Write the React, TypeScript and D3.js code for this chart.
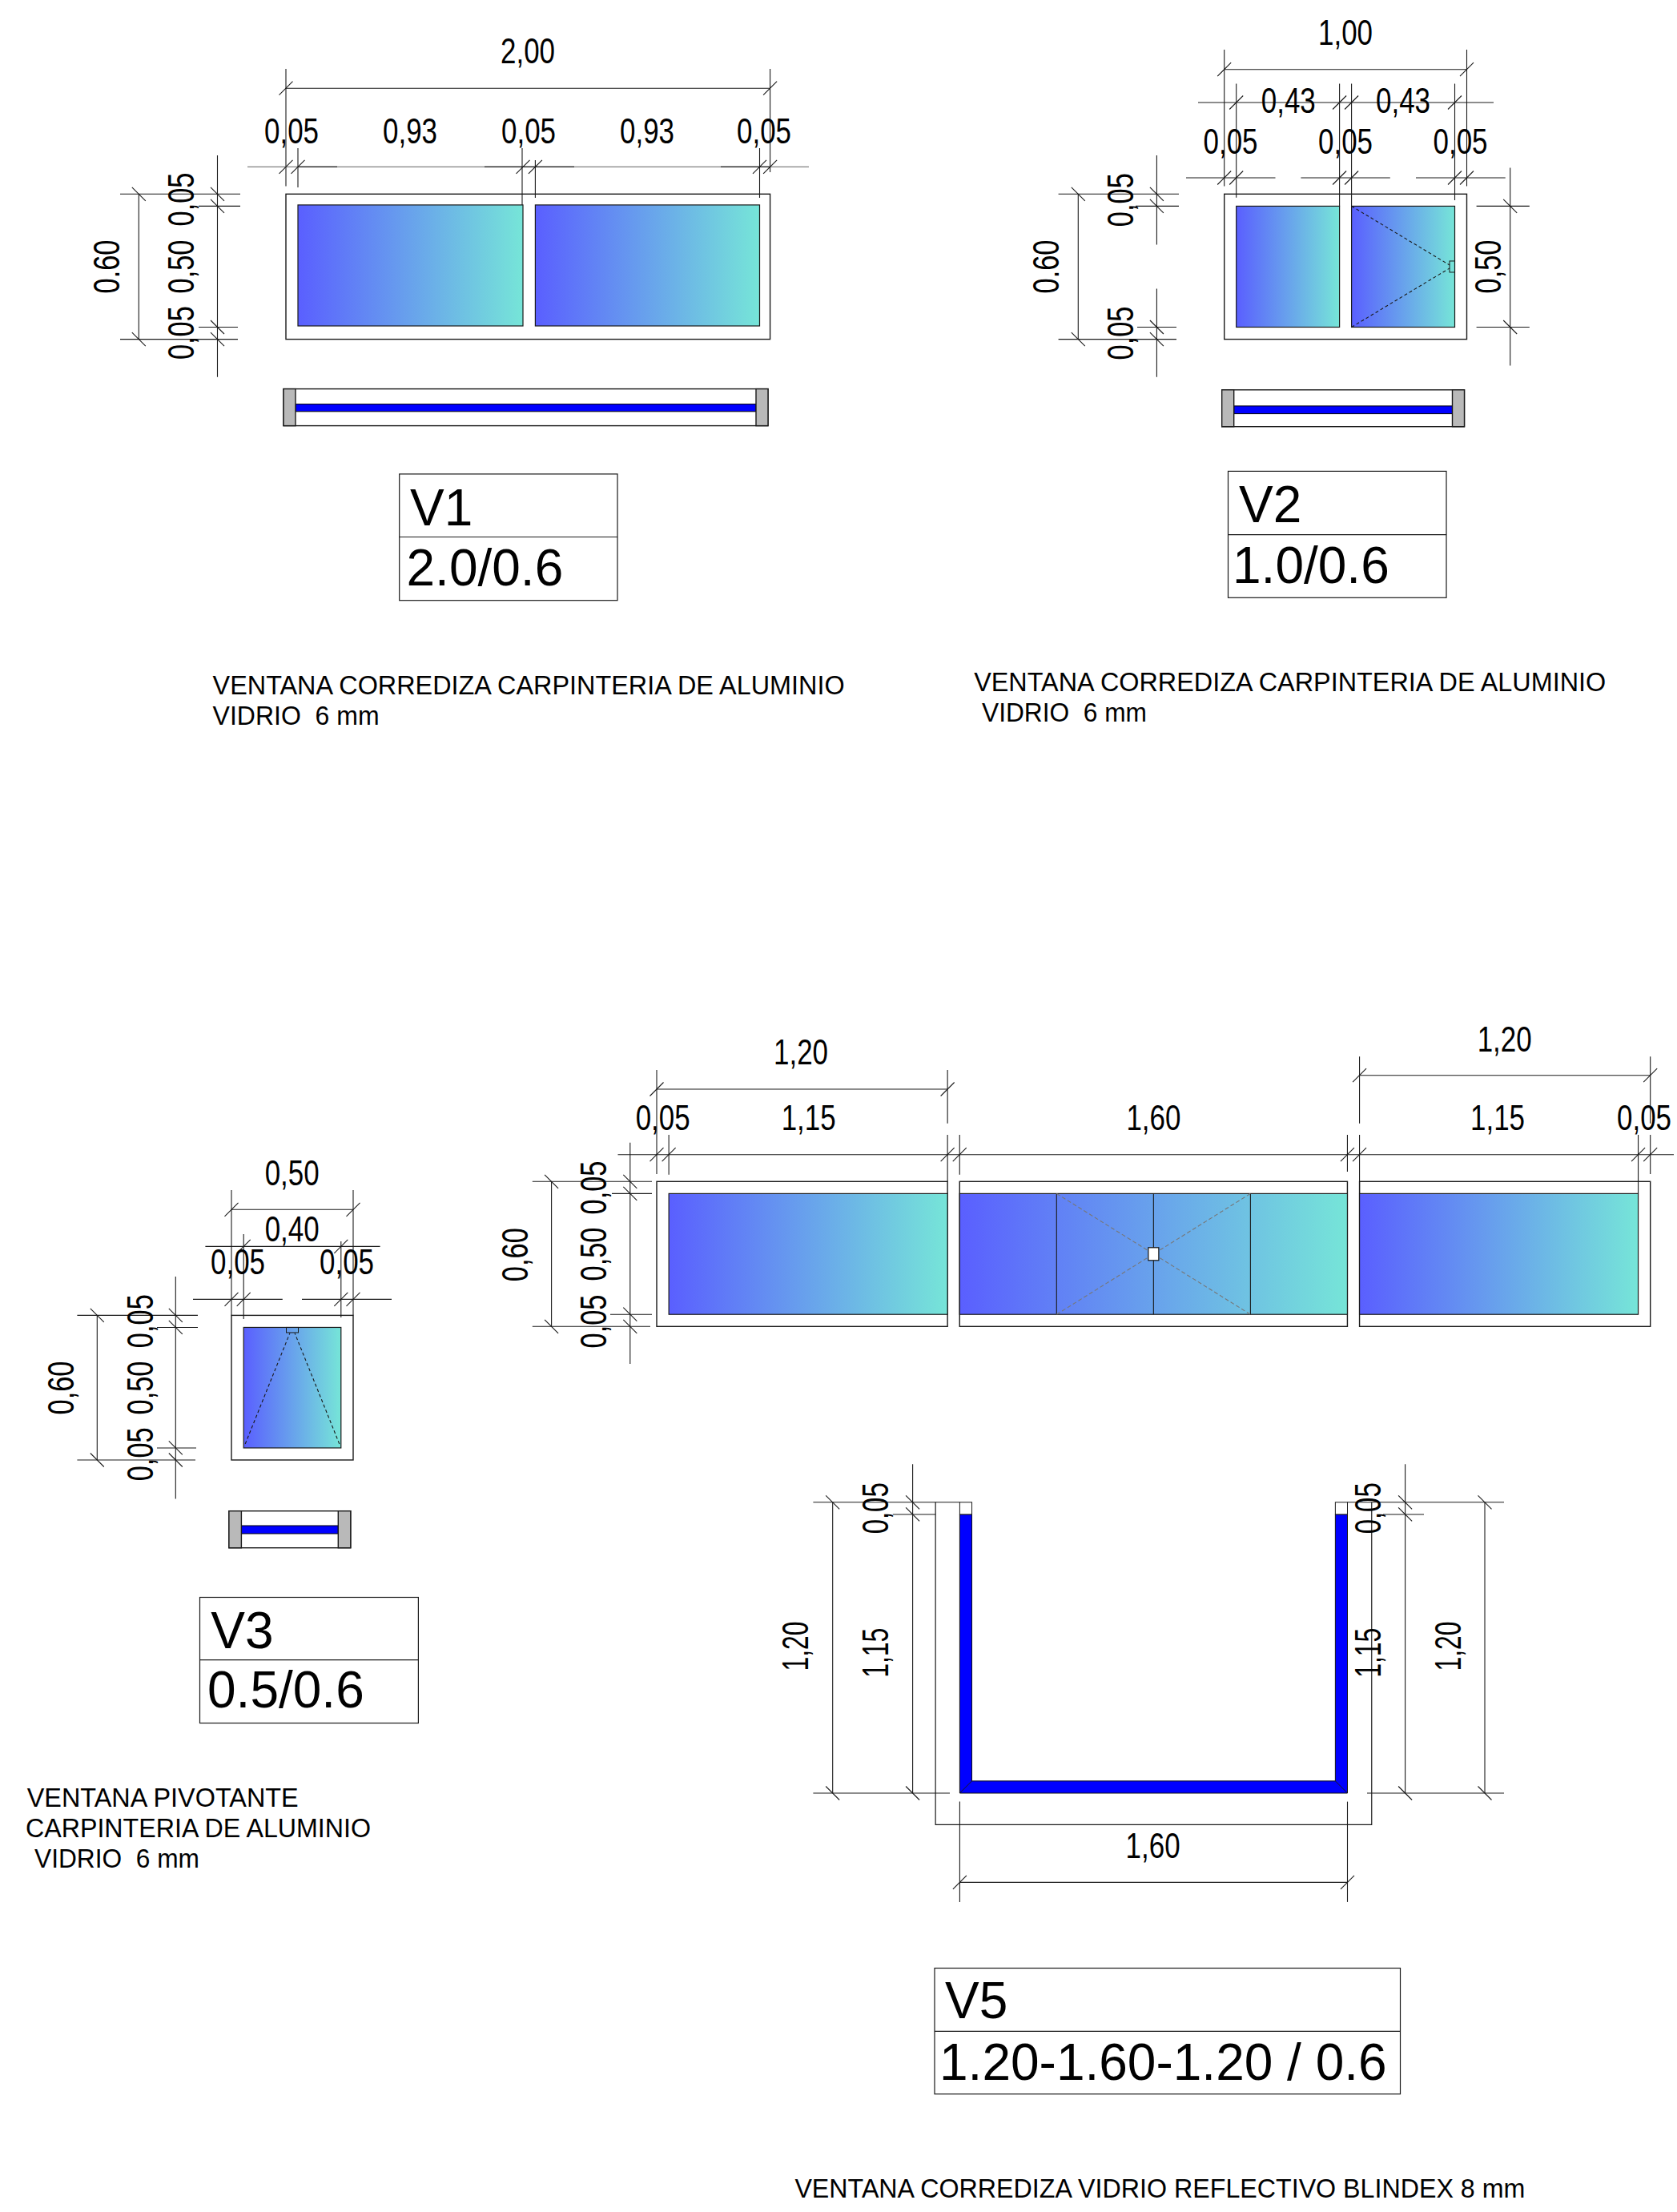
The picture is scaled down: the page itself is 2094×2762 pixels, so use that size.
import React from 'react';
import * as d3 from 'd3';

// ---- data: all lengths in metres, as dimensioned on the drawing ----
const V1_BAYS = [0.05, 0.93, 0.05, 0.93, 0.05];
const V1_BAY_LABELS = ['0,05', '0,93', '0,05', '0,93', '0,05'];
const V2_BAYS = [0.05, 0.43, 0.05, 0.43, 0.05];
const V2_ROW_LABELS = ['0,05', '0,05', '0,05'];
const V2_PANE_LABELS = ['0,43', '0,43'];
const V3_BAYS = [0.05, 0.4, 0.05];
const RISE = [0.05, 0.5, 0.05];
const RISE_LABELS = ['0,05', '0,50', '0,05'];
const V5_BAYS = [0.05, 1.15, 0.05, 1.6, 0.05, 1.15, 0.05];
const V5_ROW_LABELS = ['0,05', '1,15', '1,60', '1,15', '0,05'];
const V5_MULLIONS = [0.4, 0.8, 1.2];
const V5_PLAN_WIDTH = 1.6;
const V5_PLAN_RISE = [0.05, 1.15];
const TITLES = ['V1', 'V2', 'V3', 'V5'];
const SIZES = ['2.0/0.6', '1.0/0.6', '0.5/0.6', '1.20-1.60-1.20 / 0.6'];
const NOTE_V1 = ['VENTANA CORREDIZA CARPINTERIA DE ALUMINIO', 'VIDRIO  6 mm'];
const NOTE_V3 = ['VENTANA PIVOTANTE', 'CARPINTERIA DE ALUMINIO', 'VIDRIO  6 mm'];
const NOTE_V5 = 'VENTANA CORREDIZA VIDRIO REFLECTIVO BLINDEX 8 mm';

// ---- drawing helpers ----
const INK = '#1a1a1a';
const FONT = '"Liberation Sans", Arial, sans-serif';
const breaks = (a: number[]) => [0, ...d3.cumsum(a)];
const GLASS = 'url(#glass)';

const L = ({ a, b, c, d, w = 1.1, s = INK, dash }: any) => (
  <line x1={a} y1={b} x2={c} y2={d} stroke={s} strokeWidth={w} strokeDasharray={dash} />
);
const TH = ({ xs, y }: any) => <>{xs.map((x: number, i: number) => <L key={i} a={x - 8.5} b={y + 8.5} c={x + 8.5} d={y - 8.5} />)}</>;
const TV = ({ ys, x }: any) => <>{ys.map((y: number, i: number) => <L key={i} a={x - 8.5} b={y - 8.5} c={x + 8.5} d={y + 8.5} />)}</>;
const DimH = ({ x, y, t, len = 68, size = 44 }: any) => (
  <text x={x} y={y} textAnchor="middle" fontFamily={FONT} fontSize={size} textLength={len} lengthAdjust="spacingAndGlyphs" fill="#000">{t}</text>
);
const DimV = ({ x, y, t, len = 67, size = 46 }: any) => (
  <text transform={`translate(${x},${y}) rotate(-90)`} textAnchor="middle" fontFamily={FONT} fontSize={size} textLength={len} lengthAdjust="spacingAndGlyphs" fill="#000">{t}</text>
);
const Rect = ({ x0, x1, y0, y1, fill = 'none', w = 1.4 }: any) => (
  <rect x={x0} y={y0} width={x1 - x0} height={y1 - y0} fill={fill} stroke={INK} strokeWidth={w} />
);
const Section = ({ x0, x1, y0, y1, g0, g1, end }: any) => (
  <g>
    <Rect x0={x0} x1={x1} y0={y0} y1={y1} />
    <rect x={x0 + end} y={g0} width={x1 - x0 - 2 * end} height={g1 - g0} fill="#0000ff" stroke="#000" strokeWidth={1} />
    <Rect x0={x0} x1={x0 + end} y0={y0} y1={y1} fill="#b9b9b9" />
    <Rect x0={x1 - end} x1={x1} y0={y0} y1={y1} fill="#b9b9b9" />
  </g>
);
const TitleBox = ({ x0, x1, y0, ym, y1, i, tx, tb, sx, sb }: any) => (
  <g>
    <Rect x0={x0} x1={x1} y0={y0} y1={y1} w={1.2} />
    <L a={x0} b={ym} c={x1} d={ym} w={1.2} />
    <text x={tx} y={tb} fontFamily={FONT} fontSize={64} fill="#000">{TITLES[i]}</text>
    <text x={sx} y={sb} fontFamily={FONT} fontSize={64} fill="#000">{SIZES[i]}</text>
  </g>
);
const Note = ({ x, y, t, len }: any) => (
  <text x={x} y={y} fontFamily={FONT} fontSize={33} fill="#000" textLength={len} lengthAdjust="spacingAndGlyphs" xmlSpace="preserve">{t}</text>
);

function V1() {
  const bx = breaks(V1_BAYS);
  const ry = breaks(RISE);
  const x = d3.scaleLinear().domain(bx).range([357, 372, 653, 668.4, 948.5, 961.6]);
  const y = d3.scaleLinear().domain([0, ry[3]]).range([242.3, 423.6]);
  const X = bx.map((v) => x(v));
  const Y = ry.map((v) => y(v));
  const labelX = [364, 512, 660, 808, 954];
  return (
    <g>
      <Rect x0={X[0]} x1={X[5]} y0={Y[0]} y1={Y[3]} />
      <Rect x0={X[1]} x1={X[2]} y0={Y[1] - 1.5} y1={Y[2] - 1.5} fill={GLASS} w={1.2} />
      <Rect x0={X[3]} x1={X[4]} y0={Y[1] - 1.5} y1={Y[2] - 1.5} fill={GLASS} w={1.2} />
      <Section x0={354} x1={959} y0={485.6} y1={531.6} g0={504.6} g1={513.8} end={15} />
      {/* top dimension */}
      <L a={X[0]} b={110.2} c={X[5]} d={110.2} />
      <TH xs={[X[0], X[5]]} y={110.2} />
      <L a={X[0]} b={86} c={X[0]} d={232.5} />
      <L a={X[5]} b={86} c={X[5]} d={215} />
      <DimH x={659} y={79} t="2,00" />
      {/* bay row */}
      <L a={309} b={208.4} c={1010} d={208.4} s="#808080" />
      {[[372, 421], [605, 717], [900, 961]].map(([a, b], i) => <L key={i} a={a} b={208.4} c={b} d={208.4} />)}
      <TH xs={X} y={208.4} />
      <L a={X[1]} b={185} c={X[1]} d={234} />
      <L a={X[2] - 1} b={185} c={X[2] - 1} d={Y[1] - 1.5} />
      <L a={X[3]} b={200} c={X[3]} d={247} />
      <L a={X[4]} b={185} c={X[4]} d={247} />
      {V1_BAY_LABELS.map((t, i) => <DimH key={i} x={labelX[i]} y={179} t={t} />)}
      {/* left dimensions */}
      <L a={173.3} b={Y[0]} c={173.3} d={Y[3]} />
      <TV ys={[Y[0], Y[3]]} x={173.3} />
      <L a={150} b={Y[0]} c={300} d={Y[0]} />
      <L a={150} b={Y[3]} c={297} d={Y[3]} />
      <DimV x={148.5} y={333} t="0.60" />
      <L a={271.5} b={194} c={271.5} d={470.7} />
      <TV ys={Y} x={271.5} />
      <L a={248} b={Y[1]} c={300} d={Y[1]} />
      <L a={248} b={Y[2]} c={297} d={Y[2]} />
      {RISE_LABELS.map((t, i) => <DimV key={i} x={242.4} y={[249, 333, 415.6][i]} t={t} />)}
      <TitleBox x0={498.7} x1={771} y0={591.9} ym={670.5} y1={749.7} i={0} tx={512} tb={656} sx={507.5} sb={730.8} />
      <Note x={265.6} y={866.8} t={NOTE_V1[0]} len={789} />
      <Note x={265.6} y={905} t={NOTE_V1[1]} len={208} />
    </g>
  );
}

function V2() {
  const bx = breaks(V2_BAYS);
  const ry = breaks(RISE);
  const x = d3.scaleLinear().domain([0, bx[5]]).range([1528.7, 1831.5]);
  const y = d3.scaleLinear().domain([0, ry[3]]).range([242.3, 423.6]);
  const X = bx.map((v) => x(v));
  const Y = ry.map((v) => y(v));
  const hx = X[4] - 6.5;
  const cy = (Y[1] + Y[2]) / 2;
  return (
    <g>
      <Rect x0={X[0]} x1={X[5]} y0={Y[0]} y1={Y[3]} />
      <Rect x0={X[1]} x1={X[2]} y0={Y[1]} y1={Y[2]} fill={GLASS} w={1.2} />
      <Rect x0={X[3]} x1={X[4]} y0={Y[1]} y1={Y[2]} fill={GLASS} w={1.2} />
      <L a={X[3]} b={Y[1]} c={hx} d={cy - 2} dash="4 3" />
      <L a={X[3]} b={Y[2]} c={hx} d={cy + 2} dash="4 3" />
      <rect x={hx} y={cy - 7} width={6.5} height={14} fill="none" stroke={INK} strokeWidth={1} />
      <Section x0={1525.7} x1={1828.5} y0={486.8} y1={532.7} g0={506.9} g1={516.6} end={15} />
      {/* top dimension */}
      <L a={X[0]} b={86.7} c={X[5]} d={86.7} />
      <TH xs={[X[0], X[5]]} y={86.7} />
      <L a={X[0]} b={62} c={X[0]} d={232.5} />
      <L a={X[5]} b={62} c={X[5]} d={232.5} />
      <DimH x={1680} y={55.7} t="1,00" />
      {/* pane row */}
      <L a={1496} b={128} c={1865} d={128} />
      <TH xs={[X[1], X[2], X[3], X[4]]} y={128} />
      <L a={X[1]} b={104.5} c={X[1]} d={246.8} />
      <L a={X[2]} b={104.5} c={X[2]} d={Y[1]} />
      <L a={X[3]} b={104.5} c={X[3]} d={Y[1]} />
      <L a={X[4]} b={104.5} c={X[4]} d={250} />
      {V2_PANE_LABELS.map((t, i) => <DimH key={i} x={[1608.8, 1752][i]} y={141.2} t={t} />)}
      {/* frame row */}
      {[[1481, 1592.5], [1624.4, 1735.8], [1768, 1879.7]].map(([a, b], i) => <L key={i} a={a} b={222} c={b} d={222} />)}
      <TH xs={X} y={222} />
      {V2_ROW_LABELS.map((t, i) => <DimH key={i} x={[1536.5, 1680, 1823.5][i]} y={192.3} t={t} />)}
      {/* left dimensions */}
      <L a={1346.3} b={Y[0]} c={1346.3} d={Y[3]} />
      <TV ys={[Y[0], Y[3]]} x={1346.3} />
      <L a={1321.6} b={Y[0]} c={1472} d={Y[0]} />
      <L a={1321.6} b={Y[3]} c={1469} d={Y[3]} />
      <DimV x={1321.6} y={333} t="0.60" />
      <L a={1444.4} b={194} c={1444.4} d={305.4} />
      <L a={1444.4} b={360.5} c={1444.4} d={470.7} />
      <TV ys={Y} x={1444.4} />
      <L a={1418} b={Y[1]} c={1472} d={Y[1]} />
      <L a={1420} b={Y[2]} c={1469} d={Y[2]} />
      <DimV x={1415} y={249.7} t={RISE_LABELS[0]} />
      <DimV x={1415} y={416} t={RISE_LABELS[2]} />
      {/* right dimension */}
      <L a={1885.7} b={209.5} c={1885.7} d={456.4} />
      <TV ys={[Y[1], Y[2]]} x={1885.7} />
      <L a={1843.6} b={Y[1]} c={1909.8} d={Y[1]} />
      <L a={1843.6} b={Y[2]} c={1909.8} d={Y[2]} />
      <DimV x={1874} y={333} t={RISE_LABELS[1]} />
      <TitleBox x0={1533.5} x1={1806} y0={588.4} ym={667.6} y1={746.3} i={1} tx={1547} tb={652} sx={1539} sb={727.9} />
      <Note x={1216.2} y={862.5} t={NOTE_V1[0]} len={789} />
      <Note x={1226} y={900.5} t={NOTE_V1[1]} len={206} />
    </g>
  );
}

function V3() {
  const bx = breaks(V3_BAYS);
  const ry = breaks(RISE);
  const x = d3.scaleLinear().domain([0, bx[3]]).range([289, 441]);
  const y = d3.scaleLinear().domain([0, ry[3]]).range([1642.4, 1823]);
  const X = bx.map((v) => x(v));
  const Y = ry.map((v) => y(v));
  const cx = (X[1] + X[2]) / 2;
  return (
    <g>
      <Rect x0={X[0]} x1={X[3]} y0={Y[0]} y1={Y[3]} />
      <Rect x0={X[1]} x1={X[2]} y0={Y[1]} y1={Y[2]} fill={GLASS} w={1.2} />
      <L a={X[1] + 2} b={Y[2] - 5} c={cx - 3} d={Y[1] + 7} dash="4 3" />
      <L a={X[2] - 2} b={Y[2] - 5} c={cx + 3} d={Y[1] + 7} dash="4 3" />
      <rect x={cx - 7.5} y={Y[1]} width={15} height={6.5} fill="none" stroke={INK} strokeWidth={1} />
      <Section x0={285.9} x1={437.8} y0={1886.7} y1={1932.7} g0={1905} g1={1915} end={15.5} />
      {/* width dimensions */}
      <L a={X[0]} b={1510.3} c={X[3]} d={1510.3} />
      <TH xs={[X[0], X[3]]} y={1510.3} />
      <L a={X[0]} b={1486} c={X[0]} d={Y[0]} />
      <L a={X[3]} b={1486} c={X[3]} d={Y[0]} />
      <DimH x={364.7} y={1480} t="0,50" />
      <L a={256.4} b={1556.4} c={474.6} d={1556.4} />
      <TH xs={[X[1], X[2]]} y={1556.4} />
      <L a={X[1]} b={1541} c={X[1]} d={1647} />
      <L a={X[2]} b={1550} c={X[2]} d={1645} />
      <DimH x={364.7} y={1550} t="0,40" />
      <L a={241} b={1622.4} c={352.8} d={1622.4} />
      <L a={377} b={1622.4} c={489} d={1622.4} />
      <TH xs={X} y={1622.4} />
      <DimH x={297} y={1591} t="0,05" />
      <DimH x={433} y={1591} t="0,05" />
      {/* left dimensions */}
      <L a={121.3} b={Y[0]} c={121.3} d={Y[3]} />
      <TV ys={[Y[0], Y[3]]} x={121.3} />
      <L a={96.4} b={Y[0]} c={247} d={Y[0]} />
      <L a={96.4} b={Y[3]} c={244} d={Y[3]} />
      <DimV x={92} y={1733} t="0,60" />
      <L a={219.3} b={1594} c={219.3} d={1871.5} />
      <TV ys={Y} x={219.3} />
      <L a={196} b={Y[1]} c={247} d={Y[1]} />
      <L a={196} b={Y[2]} c={245} d={Y[2]} />
      {RISE_LABELS.map((t, i) => <DimV key={i} x={190.6} y={[1649.7, 1733, 1815.8][i]} t={t} />)}
      <TitleBox x0={249.5} x1={522.4} y0={1994.5} ym={2072.7} y1={2151.5} i={2} tx={263.3} tb={2058} sx={259} sb={2132} />
      <Note x={33.7} y={2255.8} t={NOTE_V3[0]} len={339} />
      <Note x={32} y={2294} t={NOTE_V3[1]} len={431} />
      <Note x={43} y={2331.5} t={NOTE_V3[2]} len={206} />
    </g>
  );
}

function V5Elevation() {
  const bx = breaks(V5_BAYS);
  const ry = breaks(RISE);
  const x = d3.scaleLinear().domain([0, bx[7]]).range([820, 2060.7]);
  const y = d3.scaleLinear().domain([0, ry[3]]).range([1475.3, 1656.3]);
  const X = bx.map((v) => x(v));
  const Y = ry.map((v) => y(v));
  const mid = V5_MULLIONS.map((m) => x(bx[3] + m));
  const cy = (Y[1] + Y[2]) / 2;
  const grey = '#777';
  return (
    <g>
      <Rect x0={X[0]} x1={X[2]} y0={Y[0]} y1={Y[3]} />
      <Rect x0={X[3]} x1={X[4]} y0={Y[0]} y1={Y[3]} />
      <Rect x0={X[5]} x1={X[7]} y0={Y[0]} y1={Y[3]} />
      <Rect x0={X[1]} x1={X[2]} y0={Y[1]} y1={Y[2]} fill={GLASS} w={1.2} />
      <Rect x0={X[3]} x1={X[4]} y0={Y[1]} y1={Y[2]} fill={GLASS} w={1.2} />
      <Rect x0={X[5]} x1={X[6]} y0={Y[1]} y1={Y[2]} fill={GLASS} w={1.2} />
      {mid.map((m, i) => <L key={i} a={m} b={Y[1]} c={m} d={Y[2]} />)}
      <L a={mid[0]} b={Y[1]} c={mid[2]} d={Y[2]} s={grey} dash="5 3" />
      <L a={mid[0]} b={Y[2]} c={mid[2]} d={Y[1]} s={grey} dash="5 3" />
      <rect x={mid[1] - 6.5} y={cy - 8} width={13} height={16} fill="#fff" stroke="#111" strokeWidth={1.2} />
      {/* overall dimensions */}
      <L a={X[0]} b={1360} c={X[2]} d={1360} />
      <TH xs={[X[0], X[2]]} y={1360} />
      <L a={X[0]} b={1336} c={X[0]} d={1466} />
      <L a={X[2]} b={1336} c={X[2]} d={1402.7} />
      <L a={X[2]} b={1417} c={X[2]} d={Y[0]} />
      <DimH x={1000} y={1329.3} t="1,20" />
      <L a={X[5]} b={1342.7} c={X[7]} d={1342.7} />
      <TH xs={[X[5], X[7]]} y={1342.7} />
      <L a={X[5]} b={1319.3} c={X[5]} d={1402.7} />
      <L a={X[7]} b={1319.3} c={X[7]} d={1402.7} />
      <DimH x={1878.7} y={1312.7} t="1,20" />
      {/* row */}
      <L a={771.5} b={1441.7} c={2090} d={1441.7} />
      <TH xs={X} y={1441.7} />
      <L a={X[1]} b={1417} c={X[1]} d={1466.7} />
      <L a={X[3]} b={1417} c={X[3]} d={1466.7} />
      <L a={X[4]} b={1417} c={X[4]} d={1463} />
      <L a={X[5]} b={1417} c={X[5]} d={Y[1]} />
      <L a={X[6]} b={1417} c={X[6]} d={Y[1]} />
      <L a={X[7]} b={1417} c={X[7]} d={1466} />
      {V5_ROW_LABELS.map((t, i) => <DimH key={i} x={[827.7, 1009.7, 1440.4, 1870, 2053][i]} y={1410.7} t={t} />)}
      {/* left dimensions */}
      <L a={688.6} b={Y[0]} c={688.6} d={Y[3]} />
      <TV ys={[Y[0], Y[3]]} x={688.6} />
      <L a={664.8} b={Y[0]} c={814} d={Y[0]} />
      <L a={664.8} b={Y[3]} c={812} d={Y[3]} />
      <DimV x={659} y={1566.7} t="0,60" />
      <L a={786.8} b={1426.7} c={786.8} d={1703} />
      <TV ys={Y} x={786.8} />
      <L a={764} b={Y[1]} c={814} d={Y[1]} />
      <L a={762} b={Y[2]} c={814} d={Y[2]} />
      {RISE_LABELS.map((t, i) => <DimV key={i} x={757} y={[1483, 1566, 1650][i]} t={t} />)}
    </g>
  );
}

function V5Plan() {
  const pr = breaks(V5_PLAN_RISE);
  const th = V5_PLAN_RISE[0];
  const x = d3.scaleLinear().domain([0, V5_PLAN_WIDTH]).range([1198.4, 1682.5]);
  const y = d3.scaleLinear().domain([0, pr[2]]).range([1875.8, 2239]);
  const xL = x(0), xR = x(V5_PLAN_WIDTH), xa = x(th), xb = x(V5_PLAN_WIDTH - th);
  const y0 = y(0), y1 = y(pr[1]), y2 = y(pr[2]), yi = y(pr[2] - th);
  const uShape = `M${xL},${y1}H${xa}V${yi}H${xb}V${y1}H${xR}V${y2}H${xL}Z`;
  const outL = x(-0.1), outR = x(V5_PLAN_WIDTH + 0.1), outB = y(pr[2] + 0.13);
  return (
    <g>
      <path d={`M${outL},${y0}V${outB}H${outR}V${y0}`} fill="none" stroke={INK} strokeWidth={1.2} />
      <path d={uShape} fill="#0000ff" stroke="#111" strokeWidth={1} />
      <rect x={xL} y={y0} width={xa - xL} height={y1 - y0} fill="#fff" stroke={INK} strokeWidth={1} />
      <rect x={xb} y={y0} width={xR - xb} height={y1 - y0} fill="#fff" stroke={INK} strokeWidth={1} />
      <L a={xL} b={y2} c={xa} d={yi} w={1} />
      <L a={xR} b={y2} c={xb} d={yi} w={1} />
      {/* left */}
      <L a={1015.4} b={y0} c={xL} d={y0} />
      <L a={1015.4} b={y2} c={1186} d={y2} />
      <L a={1039.7} b={y0} c={1039.7} d={y2} />
      <TV ys={[y0, y2]} x={1039.7} />
      <DimV x={1009} y={2055.5} t="1,20" len={62} />
      <L a={1139.6} b={1828.2} c={1139.6} d={y2} />
      <TV ys={[y0, y1, y2]} x={1139.6} />
      <L a={1114.8} b={y1} c={outL} d={y1} />
      <DimV x={1109} y={2063.7} t="1,15" len={62} />
      <DimV x={1109} y={1883.3} t="0,05" len={64} />
      {/* right */}
      <L a={xR} b={y0} c={1878} d={y0} />
      <L a={1707} b={y2} c={1878} d={y2} />
      <L a={1754.6} b={1828.2} c={1754.6} d={y2} />
      <TV ys={[y0, y1, y2]} x={1754.6} />
      <L a={1727} b={y1} c={1778} d={y1} />
      <L a={1854} b={y0} c={1854} d={y2} />
      <TV ys={[y0, y2]} x={1854} />
      <DimV x={1824} y={2055.5} t="1,20" len={62} />
      <DimV x={1724} y={2063.7} t="1,15" len={62} />
      <DimV x={1724} y={1883.3} t="0,05" len={64} />
      {/* bottom */}
      <L a={xL} b={2350.4} c={xR} d={2350.4} />
      <TH xs={[xL, xR]} y={2350.4} />
      <L a={xL} b={2249.6} c={xL} d={2374.9} />
      <L a={xR} b={2249.6} c={xR} d={2374.9} />
      <DimH x={1439.6} y={2320} t="1,60" />
      <TitleBox x0={1167} x1={1748.5} y0={2457.5} ym={2536.4} y1={2614.7} i={3} tx={1180} tb={2520} sx={1173} sb={2596.5} />
      <Note x={992.4} y={2744.3} t={NOTE_V5} len={912} />
    </g>
  );
}

export default function App() {
  return (
    <svg width={2094} height={2762} viewBox="0 0 2094 2762" style={{ position: 'absolute', left: 0, top: 0, background: '#fff' }}>
      <defs>
        <linearGradient id="glass" x1="0" x2="1" y1="0" y2="0">
          <stop offset="0" stopColor="#5a5fff" />
          <stop offset="0.5" stopColor="#68a2ec" />
          <stop offset="1" stopColor="#76e5d8" />
        </linearGradient>
      </defs>
      <V1 />
      <V2 />
      <V3 />
      <V5Elevation />
      <V5Plan />
    </svg>
  );
}
